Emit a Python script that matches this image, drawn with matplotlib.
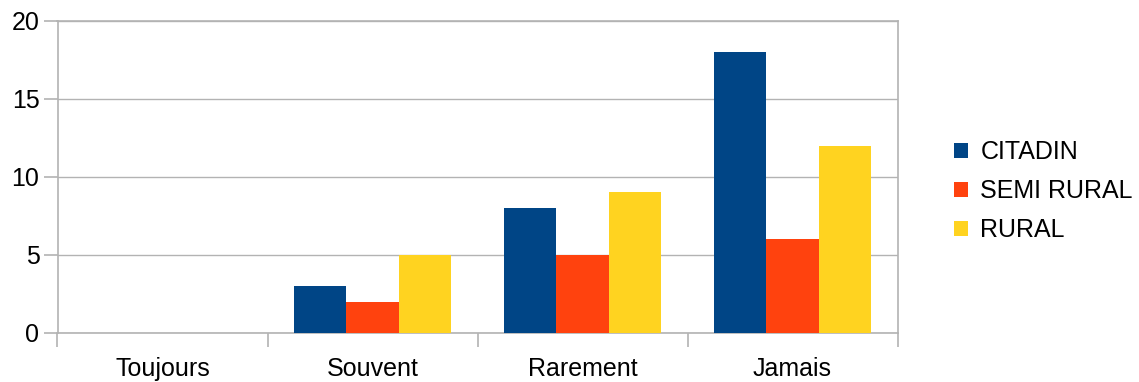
import matplotlib
matplotlib.use("Agg")
import matplotlib.pyplot as plt
from matplotlib.patches import Patch
import numpy as np

plt.rcParams['font.family'] = ['Liberation Sans', 'DejaVu Sans']

categories = ["Toujours", "Souvent", "Rarement", "Jamais"]
series_names = ["CITADIN", "SEMI RURAL", "RURAL"]
citadin = [0, 3, 8, 18]
semi_rural = [0, 2, 5, 6]
rural = [0, 5, 9, 12]
colors = ["#004586", "#ff420e", "#ffd320"]

W, H = 1139, 382
fig = plt.figure(figsize=(W / 100, H / 100), dpi=100)
ax = fig.add_axes([57.5 / W, (H - 333) / H, (897.5 - 57.5) / W, (333 - 20.5) / H])

x = np.arange(len(categories))
width = 0.25
for i, (vals, col) in enumerate(zip([citadin, semi_rural, rural], colors)):
    ax.bar(x + (i - 1) * width, vals, width, color=col, linewidth=0, zorder=3)

grid_col = "#b3b3b3"
ax.set_xlim(-0.5, len(categories) - 0.5)
ax.set_ylim(0, 20)
ax.set_yticks([0, 5, 10, 15, 20])
ax.yaxis.grid(True, color=grid_col, linewidth=1.0, zorder=0)
for s in ax.spines.values():
    s.set_color(grid_col)
    s.set_linewidth(1.2)

ax.set_xticks(x)
ax.set_xticklabels(categories)
ax.set_xticks(np.arange(len(categories) + 1) - 0.5, minor=True)
ax.tick_params(axis='x', which='major', length=0, pad=17, labelsize=18)
ax.tick_params(axis='x', which='minor', length=10, color=grid_col, width=1.2)
ax.tick_params(axis='y', length=10, color=grid_col, width=1.2, labelsize=18, pad=3)

handles = [Patch(facecolor=c, edgecolor='none') for c in colors]
fig.legend(handles, series_names, loc='center left', bbox_to_anchor=(954 / W, 1 - 191 / H),
           frameon=False, fontsize=18, handlelength=0.55, handleheight=0.55,
           handletextpad=0.5, labelspacing=0.6, borderaxespad=0, borderpad=0)

fig.savefig("out.png", dpi=100, facecolor="white")
